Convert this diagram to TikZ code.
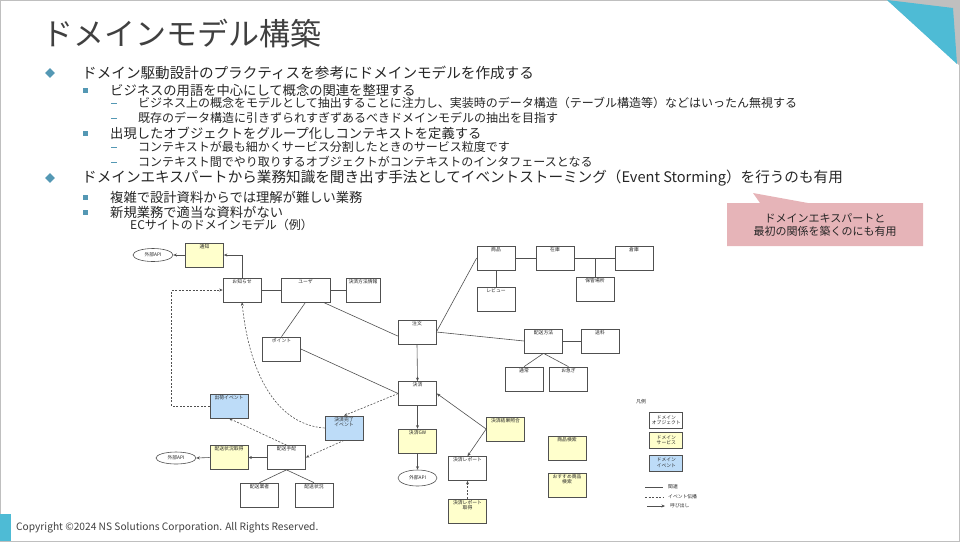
\documentclass[tikz,border=0pt]{standalone}
\usepackage{fontspec}
\setmainfont{Noto Sans CJK JP}
\usetikzlibrary{arrows.meta, positioning, calc, shapes.geometric}

\definecolor{titlegray}{RGB}{64,64,64}
\definecolor{textgray}{RGB}{38,38,38}
\definecolor{bulletblue}{RGB}{84,152,180}
\definecolor{cornerblue}{RGB}{78,187,213}
\definecolor{cornergray}{RGB}{191,191,191}
\definecolor{notepink}{RGB}{230,180,184}
\definecolor{svcyellow}{RGB}{255,255,204}
\definecolor{evtblue}{RGB}{189,220,248}
\definecolor{linegray}{RGB}{80,80,80}

\begin{document}
\begin{tikzpicture}[
  x=1pt, y=-1pt,
  lvone/.style={anchor=west, inner sep=0pt, text=textgray, font=\fontsize{14.6}{16}\selectfont},
  lvtwo/.style={anchor=west, inner sep=0pt, text=textgray, font=\fontsize{13.3}{15}\selectfont},
  lvthree/.style={anchor=west, inner sep=0pt, text=textgray, font=\fontsize{12}{14}\selectfont},
  diambullet/.style={fill=bulletblue, minimum size=7pt, inner sep=0pt, rotate=45},
  sqbullet/.style={fill=bulletblue, minimum size=5pt, inner sep=0pt},
  dashbullet/.style={fill=bulletblue, minimum width=6pt, minimum height=0.8pt, inner sep=0pt},
  lbl/.style={anchor=north, inner sep=1.5pt, align=center, text=textgray,
    font=\fontsize{4.8}{5.5}\selectfont},
  obj/.style={
    draw=linegray,
    line width=0.7pt,
    fill=white,
    rectangle,
    minimum width=38pt,
    minimum height=24pt,
    inner sep=0pt,
    label={[lbl]north:#1}
  },
  svc/.style={obj=#1, fill=svcyellow},
  evt/.style={obj=#1, fill=evtblue},
  ext/.style={draw=linegray, line width=0.6pt, ellipse, minimum width=40pt,
    minimum height=13pt, inner sep=0pt, text=textgray, font=\fontsize{4.8}{5.5}\selectfont},
  lgbox/.style={draw=linegray, line width=0.7pt, minimum width=33pt, minimum height=16pt,
    inner sep=0pt, align=center, text=textgray, font=\fontsize{4.8}{5.5}\selectfont},
  lgtext/.style={anchor=west, inner sep=0pt, text=textgray, font=\fontsize{4.8}{5.5}\selectfont},
  rel/.style={draw=linegray, line width=0.6pt},
  call/.style={rel, -{Stealth[length=3.5pt,width=3pt]}},
  evtline/.style={rel, dash pattern=on 2pt off 1.5pt, -{Stealth[length=3.5pt,width=3pt]}},
  evtplain/.style={rel, dash pattern=on 2pt off 1.5pt}
]
  \useasboundingbox (0,0) rectangle (960,542);

  % slide frame and corner marks
  \draw[cornergray, line width=1pt] (0.5,0.5) rectangle (959.5,541.5);
  \fill[cornergray] (887,0) -- (960,0) -- (960,66) -- cycle;
  \fill[cornerblue] (887,0) -- (953,8) -- (957,64) -- cycle;
  \fill[cornerblue] (0,514) rectangle (11,541);

  \node[anchor=west, inner sep=0pt, text=titlegray, font=\fontsize{31}{34}\selectfont]
    (title) at (42,34) {ドメインモデル構築};

  % bullet text
  \node[diambullet] (b1) at (50,73) {};
  \node[lvone] (t1) at (82,73) {ドメイン駆動設計のプラクティスを参考にドメインモデルを作成する};
  \node[sqbullet] (b2) at (85,90) {};
  \node[lvtwo] (t2) at (110,90) {ビジネスの用語を中心にして概念の関連を整理する};
  \node[dashbullet] (b3) at (114,103.5) {};
  \node[lvthree] (t3) at (138,103) {ビジネス上の概念をモデルとして抽出することに注力し、実装時のデータ構造（テーブル構造等）などはいったん無視する};
  \node[dashbullet] (b4) at (114,118.5) {};
  \node[lvthree] (t4) at (138,118) {既存のデータ構造に引きずられすぎずあるべきドメインモデルの抽出を目指す};
  \node[sqbullet] (b5) at (85,133) {};
  \node[lvtwo] (t5) at (110,133) {出現したオブジェクトをグループ化しコンテキストを定義する};
  \node[dashbullet] (b6) at (114,147.5) {};
  \node[lvthree] (t6) at (138,147) {コンテキストが最も細かくサービス分割したときのサービス粒度です};
  \node[dashbullet] (b7) at (114,162.5) {};
  \node[lvthree] (t7) at (138,162) {コンテキスト間でやり取りするオブジェクトがコンテキストのインタフェースとなる};
  \node[diambullet] (b8) at (50,178) {};
  \node[lvone] (t8) at (82,178) {ドメインエキスパートから業務知識を聞き出す手法としてイベントストーミング（Event Storming）を行うのも有用};
  \node[sqbullet] (b9) at (85,197) {};
  \node[lvtwo] (t9) at (110,197) {複雑で設計資料からでは理解が難しい業務};
  \node[sqbullet] (b10) at (85,212) {};
  \node[lvtwo] (t10) at (110,212) {新規業務で適当な資料がない};
  \node[lvthree] (ectitle) at (130,225) {ECサイトのドメインモデル（例）};

  % callout
  \fill[notepink] (727,203) -- (760,203) -- (753,193) -- (808,203) -- (923,203)
    -- (923,246) -- (727,246) -- cycle;
  \node[align=center, text=textgray, font=\fontsize{11}{12.7}\selectfont] (note) at (825,225)
    {ドメインエキスパートと\\最初の関係を築くのにも有用};

  % domain model
  \node[ext] (apione) at (153,255) {外部API};
  \node[svc=通知] (tsuchi) at (204.5,255) {};
  \node[obj=お知らせ] (oshirase) at (242,290) {};
  \node[obj=ユーザ, minimum width=49pt] (user) at (305.5,290) {};
  \node[obj=決済方法情報, minimum width=34pt] (payinfo) at (363,290) {};
  \node[obj=ポイント] (point) at (281.5,349) {};
  \node[obj=注文] (order) at (417,332) {};
  \node[obj=商品] (item) at (496,258) {};
  \node[obj=在庫] (stock) at (555,258) {};
  \node[obj=倉庫] (warehouse) at (634,258) {};
  \node[obj=保管場所] (place) at (595,289.5) {};
  \node[obj=レビュー] (review) at (496,299) {};
  \node[obj=配送方法] (shipway) at (543.5,341) {};
  \node[obj=送料] (shipfee) at (600,341) {};
  \node[obj=通常] (normal) at (524,379) {};
  \node[obj=お急ぎ] (express) at (568.5,379) {};
  \node[obj=決済] (pay) at (417.5,393.5) {};
  \node[svc=決済GW] (paygw) at (417.5,441) {};
  \node[ext, minimum width=39pt, minimum height=16pt] (apithree) at (417.5,478) {外部API};
  \node[svc=決済結果照合] (match) at (505.5,429) {};
  \node[obj=決済レポート] (report) at (467.5,468.5) {};
  \node[svc=決済レポート\\取得] (reportget) at (467.5,511) {};
  \node[svc=商品検索] (search) at (567,448.5) {};
  \node[svc=おすすめ商品\\検索] (recommend) at (567,485) {};
  \node[evt=出荷イベント] (shipped) at (229,406) {};
  \node[evt=決済完了\\イベント] (paid) at (344,428) {};
  \node[svc=配送状況取得] (statusget) at (229,457.5) {};
  \node[obj=配送手配] (arrange) at (286.5,457.5) {};
  \node[ext, minimum height=12pt] (apitwo) at (176,458) {外部API};
  \node[obj=配送業者] (carrier) at (259.5,495) {};
  \node[obj=配送状況] (status) at (314,495) {};

  \draw[call] (tsuchi.west) -- (apione.east);
  \draw[call] (oshirase.north) |- (tsuchi.east);
  \draw[rel] (oshirase) -- (user);
  \draw[rel] (user) -- (payinfo);
  \draw[rel] (user.south) -- (point.north);
  \draw[rel] ([xshift=-7pt]user.south east) -- ([yshift=-4pt]order.west);
  \draw[rel] (point.east) -- (pay.west);
  \draw[rel] (order.east) -- (item.west);
  \draw[rel] (order.east) -- (shipway.west);
  \draw[rel] (item) -- (stock);
  \draw[rel] (stock) -- (warehouse);
  \draw[rel] (place.north) -- (place.north |- stock.east);
  \draw[rel] (item.south) -- (review.north);
  \draw[rel] (shipway) -- (shipfee);
  \draw[rel] (shipway.south) -- (normal.north);
  \draw[rel] (shipway.south) -- (express.north);
  \draw[call] (order.south) -- (pay.north);
  \draw[call] (pay.south) -- (paygw.north);
  \draw[call] (paygw.south) -- (apithree.north);
  \draw[call] (match.west) -- (pay.east);
  \draw[call] (match.west) -- (report.north);
  \draw[evtline] (reportget.north) -- (report.south);
  \draw[evtline] (pay.west) -- (paid.north);
  \draw[evtline] (paid.south) -- (arrange.east);
  \draw[evtline] (arrange.north) -- (shipped.south);
  \draw[evtline] (shipped.west) -- ++(-38,0) |- (oshirase.west);
  \draw[evtline] (paid.west) .. controls (280,425) and (250,380) .. (oshirase.south);
  \draw[call] (arrange.west) -- (statusget.east);
  \draw[call] (statusget.west) -- (apitwo.east);
  \draw[rel] (arrange.south) -- (carrier.north);
  \draw[rel] (arrange.south) -- (status.north);

  % legend
  \node[lgtext, font=\fontsize{5}{6}\selectfont] (lgtitle) at (636,402) {凡例};
  \node[lgbox] (lgobj) at (666.3,420.3) {ドメイン\\オブジェクト};
  \node[lgbox, fill=svcyellow] (lgsvc) at (666.3,440.3) {ドメイン\\サービス};
  \node[lgbox, fill=evtblue] (lgevt) at (666.3,462.9) {ドメイン\\イベント};
  \coordinate (lgrelA) at (645,487);
  \coordinate (lgrelB) at (663,487);
  \coordinate (lgevtA) at (645,497);
  \coordinate (lgevtB) at (663,497);
  \coordinate (lgcallA) at (647,506);
  \coordinate (lgcallB) at (665,506);
  \draw[rel] (lgrelA) -- (lgrelB);
  \draw[evtplain] (lgevtA) -- (lgevtB);
  \draw[call] (lgcallA) -- (lgcallB);
  \node[lgtext, right=5pt of lgrelB] (lgrel) {関連};
  \node[lgtext, right=5pt of lgevtB] (lgevttext) {イベント伝播};
  \node[lgtext, right=5pt of lgcallB] (lgcall) {呼び出し};

  \node[anchor=west, inner sep=0pt, text=titlegray, font=\fontsize{10.2}{12}\selectfont]
    (copyright) at (16,528) {Copyright ©2024 NS Solutions Corporation. All Rights Reserved.};

\end{tikzpicture}
\end{document}
